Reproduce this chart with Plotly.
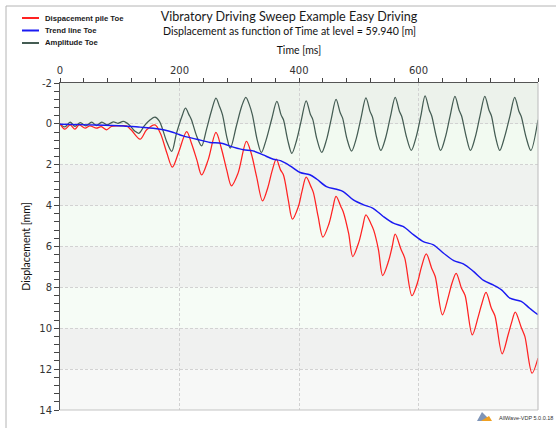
import plotly.graph_objects as go

# ---- data: time [ms] and displacement [mm] ----
amp_time = [0, 8, 17, 25, 34, 43, 53, 61, 70, 79, 89, 97, 106, 116, 125, 132, 141, 151, 159, 166,
            171, 179, 187, 195, 204, 210, 216, 220, 229, 237, 245, 254, 261, 267, 272, 279, 285,
            295, 304, 311, 317, 322, 330, 337,
            345, 354, 363, 370, 374, 381, 388,
            396, 404, 412, 419, 423, 430, 438,
            446, 454, 462, 469, 473, 480, 488,
            496, 504, 512, 519, 523, 530, 537,
            545, 553, 561, 568, 572, 580, 588,
            596, 604, 611, 618, 622, 630, 637,
            645, 653, 661, 668, 672, 680, 687,
            695, 703, 711, 718, 722, 729, 736,
            744, 753, 761, 768, 772, 780, 788, 800]
amp_disp = [0.0, 0.15, -0.08, 0.12, -0.06, 0.10, -0.08, 0.08, -0.09, 0.05, -0.10, -0.03, -0.12, 0.05,
            0.35, 0.46, 0.10, -0.20, -0.33, -0.15,
            0.20, 0.90, 1.35, 0.46, -0.36, -0.77, -0.44, -0.20, 0.62, 1.08, 0.29, -0.69, -1.26, -0.85,
            -0.44, 0.62, 1.19,
            0.13, -0.85, -1.30, -0.93, -0.44, 0.78, 1.40,
            0.78, -0.20, -1.10, -0.44, -0.20, 0.78, 1.44,
            0.80, -0.20, -1.13, -0.47, -0.22, 0.75, 1.40,
            0.78, -0.25, -1.20, -0.54, -0.28, 0.70, 1.33,
            0.70, -0.32, -1.27, -0.60, -0.33, 0.68, 1.30,
            0.68, -0.35, -1.30, -0.62, -0.36, 0.65, 1.30,
            0.65, -0.40, -1.37, -0.68, -0.40, 0.65, 1.30,
            0.65, -0.40, -1.35, -0.67, -0.40, 0.65, 1.30,
            0.65, -0.40, -1.35, -0.67, -0.40, 0.65, 1.30,
            0.65, -0.38, -1.30, -0.62, -0.36, 0.65, 1.30, -0.20]

pile_time = [0, 8, 17, 25, 32, 42, 50, 61, 69, 78, 86, 97, 111, 119, 134, 145, 159, 168,
             179, 188, 198, 212, 220, 229, 237, 248, 261, 270, 279, 287, 298, 312, 320, 329, 339,
             348, 355, 362, 369, 374, 382, 389,
             399, 405, 412, 420, 424, 432, 440,
             450, 456, 462, 470, 474, 483, 490,
             500, 506, 512, 520, 525, 533, 540,
             550, 556, 561, 571, 577, 589,
             598, 605, 613, 622, 628, 640,
             650, 656, 663, 672, 678, 690,
             700, 706, 713, 722, 728, 740,
             750, 756, 762, 772, 778, 790, 800]
pile_disp = [0.0, 0.26, 0.05, 0.26, 0.05, 0.21, 0.10, 0.21, 0.13, 0.29, 0.13, 0.10, 0.10, 0.29,
             0.75, 0.29, 0.05, 0.46,
             1.44, 2.12, 1.44, 0.38, 0.95, 1.76, 2.50, 1.76, 0.42, 1.19, 2.25, 3.03, 2.41, 0.86,
             1.44, 2.58, 3.77,
             3.10, 2.30, 1.73, 2.25, 2.50, 3.72, 4.66,
             4.04, 3.30, 2.61, 3.07, 3.35, 4.53, 5.54,
             4.90, 4.20, 3.55, 4.04, 4.30, 5.35, 6.49,
             5.80, 5.10, 4.45, 4.86, 5.20, 6.16, 7.42,
             6.70, 6.00, 5.40, 6.16, 6.57, 8.41,
             7.80, 7.00, 6.36, 7.06, 7.47, 9.34,
             8.45, 7.80, 7.31, 8.04, 8.40, 10.32,
             9.43, 8.80, 8.25, 9.02, 9.40, 11.25,
             10.32, 9.70, 9.21, 9.96, 10.40, 12.20, 11.46]

trend_time = [0, 50, 106, 134, 156, 173, 190, 206, 229, 251, 270, 290, 307, 323, 340, 357, 369,
              385, 402, 418, 430, 446, 463, 474, 491, 508, 524, 541, 558, 574, 592, 608, 625,
              642, 659, 675, 692, 709, 725, 739, 753, 772, 786, 800]
trend_disp = [0.02, 0.05, 0.10, 0.16, 0.21, 0.29, 0.42, 0.59, 0.75, 0.91, 0.95, 1.14, 1.27, 1.32,
              1.52, 1.73, 1.80, 2.05, 2.38, 2.49, 2.71, 3.07, 3.20, 3.31, 3.72, 3.96, 4.13, 4.53,
              4.86, 5.02, 5.43, 5.76, 5.92, 6.33, 6.69, 6.85, 7.22, 7.66, 7.88, 8.12, 8.53, 8.69,
              9.02, 9.34]

time_ticks = [0, 200, 400, 600]
disp_ticks = [-2, 0, 2, 4, 6, 8, 10, 12, 14]
disp_tick_labels = ["-2", "0", "2", "4", "6", "8", "10", "12", "14"]

# ---- page geometry (pixels) ----
W, H = 556, 428
PL, PR, PT, PB = 60, 538, 83, 410


def fx(x):
    return (x - PL) / (PR - PL)


def fy(y):
    return (PB - y) / (PB - PT)


RED = "#ff2222"
BLUE = "#1a1af2"
SLATE = "#445c53"

fig = go.Figure()
fig.add_trace(go.Scatter(x=amp_time, y=amp_disp, mode="lines", name="Amplitude Toe",
                         line=dict(color=SLATE, width=1.25, shape="spline", smoothing=0.9),
                         showlegend=False))
fig.add_trace(go.Scatter(x=pile_time, y=pile_disp, mode="lines", name="Dispacement pile Toe",
                         line=dict(color=RED, width=1.25, shape="spline", smoothing=0.9),
                         showlegend=False))
fig.add_trace(go.Scatter(x=trend_time, y=trend_disp, mode="lines", name="Trend line Toe",
                         line=dict(color=BLUE, width=1.45, shape="spline", smoothing=0.9),
                         showlegend=False))

shapes = []
band_colors = ["#ecf2eb", "#f2faf1", "#eff2ef", "#f4fbf4", "#f0f2f0", "#f6fcf6", "#f0f1f0", "#f7f8f7"]
for i in range(len(disp_ticks) - 1):
    shapes.append(dict(type="rect", xref="paper", yref="y", x0=0, x1=1,
                       y0=disp_ticks[i], y1=disp_ticks[i + 1], fillcolor=band_colors[i],
                       line=dict(width=0), layer="below"))

# light frame on the right and bottom of the plot area
shapes.append(dict(type="line", xref="paper", yref="paper", x0=1, x1=1, y0=0, y1=1,
                   line=dict(color="#c4c4c4", width=1.2)))
shapes.append(dict(type="line", xref="paper", yref="paper", x0=0, x1=1, y0=0, y1=0,
                   line=dict(color="#c4c4c4", width=1.2)))
# outer frame (top and left)
shapes.append(dict(type="line", xref="paper", yref="paper", x0=fx(6), x1=fx(W + 2),
                   y0=fy(6), y1=fy(6), line=dict(color="#b4b4b4", width=1)))
shapes.append(dict(type="line", xref="paper", yref="paper", x0=fx(6), x1=fx(6),
                   y0=fy(6), y1=fy(H + 2), line=dict(color="#b4b4b4", width=1)))

annotations = []
# legend block
legend_items = [("Dispacement pile Toe", RED, 18), ("Trend line Toe", BLUE, 30.5),
                ("Amplitude Toe", SLATE, 43)]
for label, color, yy in legend_items:
    shapes.append(dict(type="line", xref="paper", yref="paper", x0=fx(22), x1=fx(39),
                       y0=fy(yy), y1=fy(yy), line=dict(color=color, width=2)))
    annotations.append(dict(text="<b>%s</b>" % label, xref="paper", yref="paper",
                            x=fx(43), y=fy(yy), xanchor="left", yanchor="middle",
                            showarrow=False,
                            font=dict(family="Liberation Sans", size=7.7, color="#1a1a1a")))

# subtitle
annotations.append(dict(text="Displacement as function of Time at level = 59.940 [m]",
                        xref="paper", yref="paper", x=fx(289), y=fy(31), xanchor="center",
                        yanchor="middle", showarrow=False,
                        font=dict(family="Lato", size=10.6, color="#111111")))

# software badge
annotations.append(dict(text="AllWave-VDP 5.0.0.18", xref="paper", yref="paper",
                        x=fx(497), y=fy(418), xanchor="left", yanchor="middle",
                        showarrow=False,
                        font=dict(family="Liberation Sans", size=5.5, color="#333333")))
shapes.append(dict(type="path", xref="paper", yref="paper",
                   path="M %f,%f L %f,%f L %f,%f L %f,%f Z" % (
                       fx(477), fy(421), fx(482), fy(412), fx(486), fy(416), fx(491), fy(421)),
                   fillcolor="#7f95b8", line=dict(width=0)))
shapes.append(dict(type="path", xref="paper", yref="paper",
                   path="M %f,%f L %f,%f L %f,%f Z" % (
                       fx(481), fy(421), fx(489), fy(416), fx(492), fy(421)),
                   fillcolor="#f0a020", line=dict(width=0)))

fig.update_layout(
    width=W, height=H,
    margin=dict(l=PL, r=W - PR, t=PT, b=H - PB, autoexpand=False),
    paper_bgcolor="white", plot_bgcolor="white",
    showlegend=False,
    title=dict(text="Vibratory Driving Sweep Example Easy Driving",
               x=289 / W, xref="container", xanchor="center",
               y=1 - 17 / H, yref="container", yanchor="middle",
               font=dict(family="Lato", size=12.6, color="#1a1a1a")),
    shapes=shapes, annotations=annotations,
    font=dict(family="DejaVu Sans", size=10, color="#333333"),
)

fig.update_xaxes(
    range=[0, 800], side="top", tickvals=time_ticks, ticktext=[str(v) for v in time_ticks],
    showline=True, linecolor="#555555", linewidth=1,
    ticks="outside", ticklen=4, tickcolor="#444444",
    tickfont=dict(family="DejaVu Sans", size=10, color="#333333"),
    showgrid=True, gridcolor="#d2d2d2", griddash="3px,2px", gridwidth=1,
    zeroline=False, automargin=False,
    minor=dict(tick0=0, dtick=40, ticks="outside", ticklen=4, tickcolor="#444444",
               showgrid=False),
    title=dict(text="Time [ms]", standoff=8,
               font=dict(family="Lato", size=10.5, color="#111111")),
)
fig.update_yaxes(
    range=[14, -2], tickvals=disp_ticks, ticktext=disp_tick_labels,
    showline=True, linecolor="#555555", linewidth=1,
    ticks="outside", ticklen=5, tickcolor="#444444",
    tickfont=dict(family="DejaVu Sans", size=10, color="#333333"),
    showgrid=True, gridcolor="#d2d2d2", griddash="3px,2px", gridwidth=1,
    zeroline=False, automargin=False,
    minor=dict(tick0=0, dtick=0.4, ticks="outside", ticklen=5, tickcolor="#444444",
               showgrid=False),
    title=dict(text="Displacement [mm]", standoff=6,
               font=dict(family="Lato", size=10.5, color="#111111")),
)

fig.write_html("out.html")
